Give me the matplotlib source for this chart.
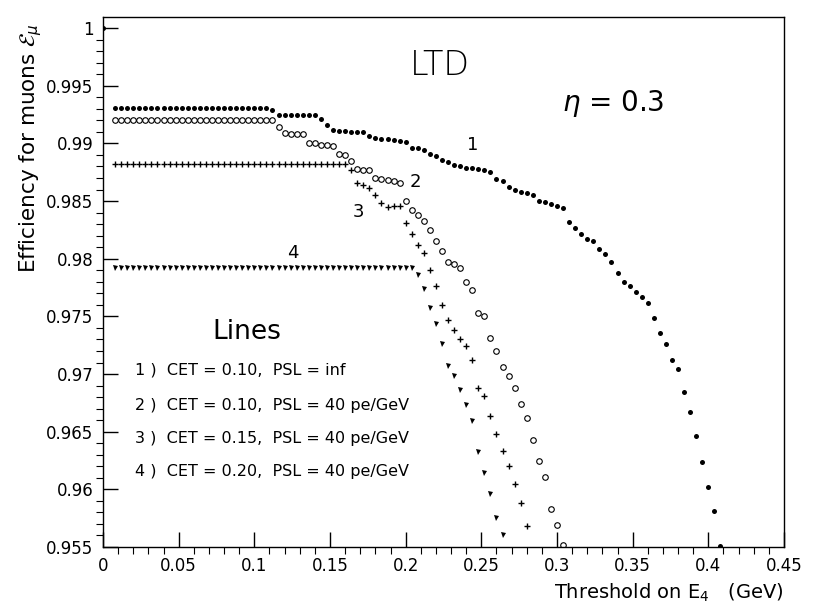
import numpy as np
import matplotlib.pyplot as plt

#? threshold scan grid (GeV)
grid = np.round(np.arange(0.008, 0.4081, 0.004), 3)

#? efficiencies
eff1 = ([0.9931] * 26 + [0.9929] + [0.9925] * 7 +
        [0.9921, 0.9916, 0.9912, 0.9911, 0.9911, 0.9910, 0.9910, 0.9910,
         0.9906, 0.9905, 0.9904, 0.9904, 0.9903, 0.9902, 0.9901,
         0.9896, 0.9896, 0.9894, 0.9891, 0.9889, 0.9886, 0.9884, 0.9881,
         0.9880, 0.9879, 0.9879, 0.9878, 0.9877, 0.9875, 0.9869, 0.9867,
         0.9862, 0.9860, 0.9858, 0.9857, 0.9855, 0.9850, 0.9849, 0.9847,
         0.9846, 0.9844, 0.9832, 0.9827, 0.9821, 0.9817, 0.9815, 0.9808,
         0.9804, 0.9797, 0.9788, 0.9780, 0.9776, 0.9771, 0.9767, 0.9762,
         0.9749, 0.9736, 0.9726, 0.9712, 0.9704, 0.9684, 0.9667, 0.9646,
         0.9624, 0.9602, 0.9581, 0.9551])
eff2 = ([0.9920] * 27 +
        [0.9914, 0.9909, 0.9908, 0.9908, 0.9908, 0.9900, 0.9900, 0.9899,
         0.9899, 0.9898, 0.9891, 0.9890, 0.9885, 0.9878, 0.9877, 0.9877,
         0.9870, 0.9869, 0.9868, 0.9867, 0.9866, 0.9850, 0.9842, 0.9838,
         0.9833, 0.9825, 0.9815, 0.9807, 0.9797, 0.9795, 0.9792, 0.9780,
         0.9773, 0.9753, 0.9750, 0.9731, 0.9720, 0.9706, 0.9698, 0.9688,
         0.9674, 0.9662, 0.9643, 0.9625, 0.9611, 0.9583, 0.9569, 0.9552])
eff3 = ([0.9882] * 39 +
        [0.9877, 0.9866, 0.9864, 0.9861, 0.9855, 0.9848, 0.9845, 0.9846,
         0.9846, 0.9831, 0.9821, 0.9812, 0.9805, 0.9790, 0.9776, 0.9760,
         0.9747, 0.9738, 0.9730, 0.9724, 0.9712, 0.9688, 0.9681, 0.9664,
         0.9648, 0.9633, 0.9620, 0.9605, 0.9588, 0.9568])
eff4 = ([0.9792] * 50 +
        [0.9786, 0.9774, 0.9757, 0.9743, 0.9726, 0.9707, 0.9698, 0.9686,
         0.9673, 0.9659, 0.9632, 0.9614, 0.9596, 0.9575, 0.9560])

curve_tags = ["1", "2", "3", "4"]
tag_x = [0.2445, 0.2062, 0.1685, 0.1256]
tag_y = [0.9899, 0.98665, 0.98405, 0.98049]

legend_rows = ["1 )  CET = 0.10,  PSL = inf",
               "2 )  CET = 0.10,  PSL = 40 pe/GeV",
               "3 )  CET = 0.15,  PSL = 40 pe/GeV",
               "4 )  CET = 0.20,  PSL = 40 pe/GeV"]
legend_y = [0.97035, 0.96731, 0.96442, 0.96153]

xticks = [0, 0.05, 0.1, 0.15, 0.2, 0.25, 0.3, 0.35, 0.4, 0.45]
xtick_labels = ["0", "0.05", "0.1", "0.15", "0.2", "0.25", "0.3", "0.35", "0.4", "0.45"]
yticks = [0.955, 0.96, 0.965, 0.97, 0.975, 0.98, 0.985, 0.99, 0.995, 1.0]
ytick_labels = ["0.955", "0.96", "0.965", "0.97", "0.975", "0.98", "0.985", "0.99", "0.995", "1"]

#? figure
fig = plt.figure(figsize=(8.13, 6.07), dpi=100)
ax = fig.add_axes([0.1267, 0.0988, 0.8376, 0.874])

ax.plot([0.0] + list(grid[:len(eff1)]), [1.0] + eff1, 'o', color='black', ms=3.6, mew=0)
ax.plot(grid[:len(eff2)], eff2, 'o', mfc='none', mec='black', ms=4, mew=0.8)
ax.plot(grid[:len(eff3)], eff3, '+', color='black', ms=5, mew=1.0)
ax.plot(grid[:len(eff4)], eff4, 'v', color='black', ms=3.6, mew=0)

ax.set_xlim(0, 0.45)
ax.set_ylim(0.955, 1.001)
ax.set_xticks(xticks)
ax.set_xticklabels(xtick_labels)
ax.set_yticks(yticks)
ax.set_yticklabels(ytick_labels)
ax.set_xticks(np.round(np.arange(0, 0.451, 0.01), 2), minor=True)
ax.set_yticks(np.round(np.arange(0.955, 1.0005, 0.001), 3), minor=True)
ax.tick_params(direction='in', top=False, right=False, labelsize=12, pad=7)
ax.tick_params(which='major', length=11, width=1)
ax.tick_params(which='minor', length=5, width=0.8)
for s in ax.spines.values():
    s.set_linewidth(1)

ax.set_ylabel(r'Efficiency for muons $\mathcal{E}_{\mu}$', fontsize=15.5, va='center')
ax.yaxis.set_label_coords(-0.107, 0.752)
ax.set_xlabel(r'Threshold on E$_4$   (GeV)', fontsize=14, loc='right', va='center')
ax.xaxis.set_label_coords(1.0, -0.087)

for t, tx, ty in zip(curve_tags, tag_x, tag_y):
    ax.text(tx, ty, t, fontsize=13, ha='center', va='center')

ax.text(0.2227, 0.99679, 'LTD', fontsize=24, ha='center', va='center', fontweight='light')
ax.text(0.337, 0.9935, r'$\eta$ = 0.3', fontsize=20, ha='center', va='center')
ax.text(0.0952, 0.97364, 'Lines', fontsize=19, ha='center', va='center')
for row, ry in zip(legend_rows, legend_y):
    ax.text(0.0212, ry, row, fontsize=11.5, ha='left', va='center')

plt.savefig('out.png', dpi=100)
